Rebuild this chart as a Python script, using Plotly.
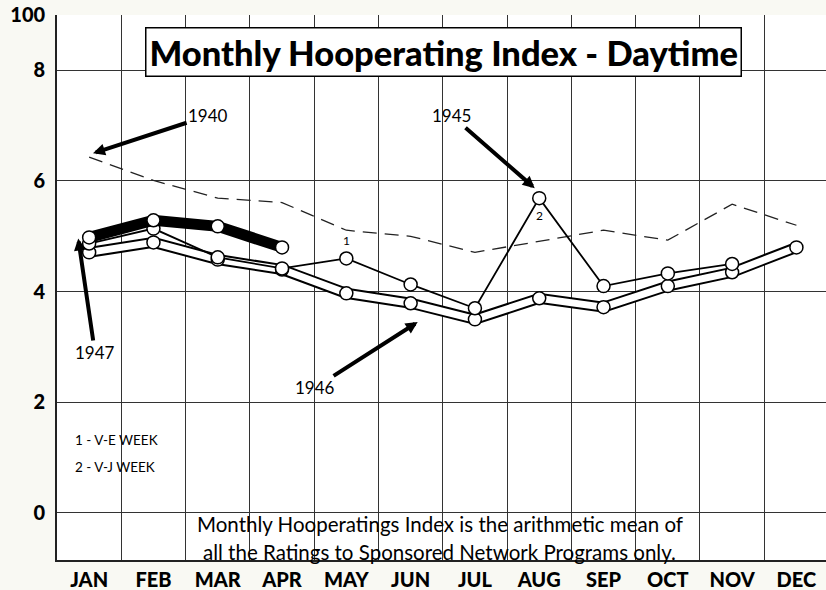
import plotly.graph_objects as go

months = ["JAN", "FEB", "MAR", "APR", "MAY", "JUN", "JUL", "AUG", "SEP", "OCT", "NOV", "DEC"]
y1940 = [6.43, 6.01, 5.69, 5.61, 5.11, 5.00, 4.71, 4.91, 5.11, 4.93, 5.58, 5.20]
y1945 = [4.87, 5.14, 4.62, 4.42, 4.60, 4.13, 3.70, 5.69, 4.10, 4.33, 4.50, None]
y1946 = [4.71, 4.89, 4.58, 4.40, 3.97, 3.79, 3.50, 3.88, 3.72, 4.10, 4.35, 4.80]
y1947 = [4.98, 5.29, 5.18, 4.80, None, None, None, None, None, None, None, None]
ytick_vals = [0, 2, 4, 6, 8, 9]
ytick_text = ["0", "2", "4", "6", "8", "100"]

xi = list(range(len(months)))
FONT = "Lato"
circle = dict(symbol="circle", size=13, color="white", line=dict(color="black", width=1.5))

fig = go.Figure()
# 1940 dashed
fig.add_trace(go.Scatter(x=xi, y=y1940, mode="lines",
                         line=dict(color="#222", width=1.3, dash="14px,8px"), hoverinfo="skip"))
# 1946 tube
fig.add_trace(go.Scatter(x=xi, y=y1946, mode="lines", line=dict(color="black", width=11), hoverinfo="skip"))
fig.add_trace(go.Scatter(x=xi, y=y1946, mode="lines+markers", line=dict(color="white", width=7),
                         marker=circle, hoverinfo="skip"))
# 1945 thin
fig.add_trace(go.Scatter(x=xi, y=y1945, mode="lines+markers", line=dict(color="black", width=1.8),
                         marker=circle, hoverinfo="skip"))
# 1947 thick band
fig.add_trace(go.Scatter(x=xi, y=y1947, mode="lines+markers", line=dict(color="black", width=11),
                         marker=circle, hoverinfo="skip"))

annos = []
annos.append(dict(x=0.502, y=0.932, xref="paper", yref="paper", xanchor="center", yanchor="middle",
                  showarrow=False, text="Monthly Hooperating Index - Daytime",
                  font=dict(family=FONT, size=34.5, color="black", weight=900),
                  bgcolor="white", bordercolor="black", borderwidth=1.5, borderpad=3))
arrow_common = dict(xref="x", yref="y", axref="x", ayref="y", showarrow=True,
                    arrowhead=2, arrowsize=0.6, arrowwidth=4, arrowcolor="black",
                    font=dict(family=FONT, size=17, color="black"))
annos.append(dict(text="1940", x=0.06, y=6.5, ax=1.85, ay=7.18, **arrow_common))
annos.append(dict(text="1945", x=6.93, y=5.87, ax=5.64, ay=7.18, **arrow_common))
annos.append(dict(text="1947", x=-0.17, y=4.96, ax=0.09, ay=2.9, **arrow_common))
annos.append(dict(text="1946", x=5.11, y=3.45, ax=3.51, ay=2.26, **arrow_common))
annos.append(dict(text="1", x=xi[4], y=y1945[4] + 0.33, xref="x", yref="y", showarrow=False,
                  font=dict(family=FONT, size=12, color="black")))
annos.append(dict(text="2", x=xi[7], y=y1945[7] - 0.32, xref="x", yref="y", showarrow=False,
                  font=dict(family=FONT, size=12, color="black")))
annos.append(dict(text="1 - V-E WEEK", x=-0.25, y=1.32, xref="x", yref="y", xanchor="left",
                  showarrow=False, font=dict(family=FONT, size=13.5, color="black")))
annos.append(dict(text="2 - V-J WEEK", x=-0.25, y=0.83, xref="x", yref="y", xanchor="left",
                  showarrow=False, font=dict(family=FONT, size=13.5, color="black")))
annos.append(dict(text="Monthly Hooperatings Index is the arithmetic mean of", x=0.498, y=0.066,
                  xref="paper", yref="paper", xanchor="center", yanchor="middle", showarrow=False,
                  font=dict(family=FONT, size=20.5, color="black")))
annos.append(dict(text="all the Ratings to Sponsored Network Programs only.", x=0.498, y=0.015,
                  xref="paper", yref="paper", xanchor="center", yanchor="middle", showarrow=False,
                  font=dict(family=FONT, size=20.5, color="black")))

fig.update_layout(
    width=826, height=590,
    margin=dict(l=57, r=0, t=15, b=30),
    paper_bgcolor="#f9f9f3", plot_bgcolor="white",
    showlegend=False,
    annotations=annos,
    xaxis=dict(range=[-0.5, 11.46], tickmode="array", tickvals=xi, ticktext=months,
               showgrid=False, zeroline=False, showline=True, linecolor="#222", linewidth=1.5,
               ticks="", automargin=False, ticklabelstandoff=1,
               tickfont=dict(family=FONT, size=20, color="black", weight=900),
               minor=dict(tickvals=[i - 0.5 for i in xi], showgrid=True, gridcolor="#333", gridwidth=1.3,
                          ticks="")),
    yaxis=dict(range=[-0.85, 9], tickmode="array", tickvals=ytick_vals, ticktext=ytick_text,
               showgrid=True, gridcolor="#333", gridwidth=1.3, zeroline=False,
               showline=True, linecolor="#222", linewidth=1.8, ticks="", automargin=False,
               ticklabelstandoff=6,
               tickfont=dict(family=FONT, size=20, color="black", weight=900)),
)

fig.write_html("out.html", config={"displayModeBar": False},
               post_script="document.body.style.margin='0';document.body.style.overflow='hidden';")
